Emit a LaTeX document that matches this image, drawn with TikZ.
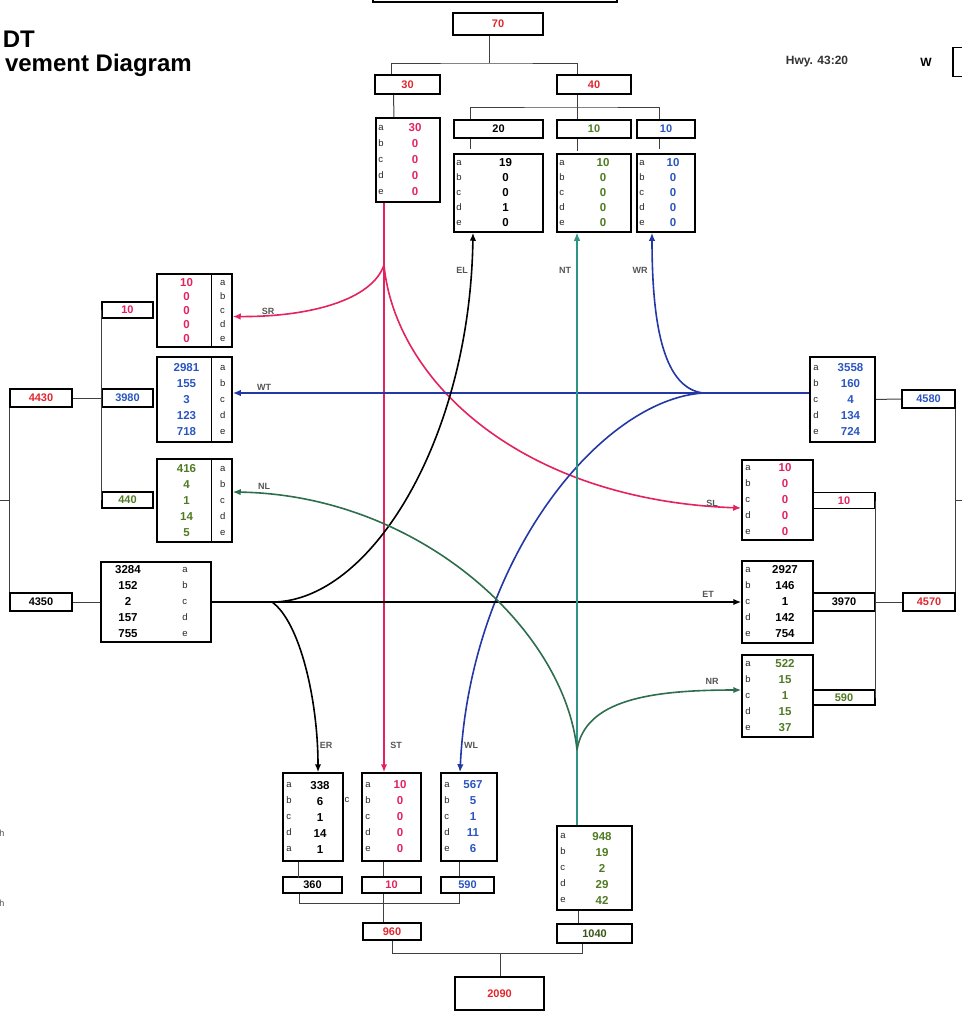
\documentclass[tikz,border=0pt]{standalone}
\usepackage{fontspec}
\setmainfont{Liberation Sans}
\usetikzlibrary{positioning,calc,arrows.meta}
\definecolor{mvred}{HTML}{E0262E}
\definecolor{mvpink}{HTML}{E3225E}
\definecolor{mvblue}{HTML}{2A55C0}
\definecolor{mvgreen}{HTML}{4F7A22}
\definecolor{lnblue}{HTML}{2338A6}
\definecolor{lnteal}{HTML}{2E9486}
\definecolor{lngreen}{HTML}{2D6E4E}
\definecolor{lblgray}{HTML}{555555}
\newcommand{\abcde}{a\\b\\c\\d\\e}

\begin{document}
\begin{tikzpicture}[x=1pt, y=-1pt,
    box/.style={draw, line width=1.5pt, inner sep=0pt, font=\bfseries\fontsize{11}{12}\selectfont},
    tab/.style={draw, line width=1.5pt, inner sep=0pt},
    val/.style={font=\bfseries\fontsize{11.5}{16}\selectfont, align=center, inner sep=0pt},
    lett/.style={font=\fontsize{9.5}{16}\selectfont, align=left, inner sep=0pt, text=black!85},
    link/.style={line width=1pt, color=black!75},
    flow/.style={-{Latex[length=8pt,width=6.5pt]}, line width=1.6pt},
    lbl/.style={font=\bfseries\fontsize{9}{10}\selectfont, text=lblgray},
    ttl/.style={font=\bfseries\fontsize{24}{26}\selectfont, inner sep=0pt},
]
\useasboundingbox (0,0) rectangle (962,1013);
\clip (0,0) rectangle (962,1013);

% header
\node[ttl, anchor=base east] (ttlA) at (35,47) {DT};
\node[ttl, anchor=base east] (ttlB) at (192,71) {vement Diagram};
\node[font=\bfseries\fontsize{12}{13}\selectfont, text=black!80] (hwy) at (817,62) {Hwy. 43:20};
\node[font=\bfseries\fontsize{12}{13}\selectfont] (wlbl) at (926,62) {W};
\node[tab, minimum width=30, minimum height=29] (wbox) at (968,62) {};
\node[tab, minimum width=244, minimum height=24] (hdr) at (495,-10) {};
\node[font=\fontsize{9}{10}\selectfont, text=black!70] (h1) at (2,833) {h};
\node[font=\fontsize{9}{10}\selectfont, text=black!70] (h2) at (2,903) {h};

% north leg
\node[box, text=mvred, minimum width=90, minimum height=22] (n70) at (498,24) {70};
\node[box, text=mvred, minimum width=65, minimum height=19] (n30) at (407.5,84.5) {30};
\node[box, text=mvred, minimum width=74, minimum height=19] (n40) at (594,84.5) {40};
\node[box, minimum width=89, minimum height=18] (n20) at (498.5,129) {20};
\node[box, text=mvgreen, minimum width=74, minimum height=18] (n10g) at (594,129) {10};
\node[box, text=mvblue, minimum width=58, minimum height=18] (n10b) at (666,129) {10};
\node[tab, minimum width=64, minimum height=84] (t30) at (408,160) {};
\node[tab, minimum width=89, minimum height=78] (t20) at (498.5,193) {};
\node[tab, minimum width=74, minimum height=78] (t10g) at (594,193) {};
\node[tab, minimum width=58, minimum height=78] (t10b) at (666,193) {};
\node[lett, right] (t30-l) at ([xshift=3]t30.west) {\abcde};
\foreach \t in {t20,t10g,t10b}
  \node[lett, right, font=\fontsize{9.5}{15}\selectfont] (\t-l) at ([xshift=3]\t.west) {\abcde};
\node[val, text=mvpink] (t30-v) at ([xshift=7]t30.center) {30\\0\\0\\0\\0};
\node[val, font=\bfseries\fontsize{11.5}{15}\selectfont] (t20-v) at ([xshift=7]t20.center) {19\\0\\0\\1\\0};
\node[val, font=\bfseries\fontsize{11.5}{15}\selectfont, text=mvgreen] (t10g-v) at ([xshift=9]t10g.center) {10\\0\\0\\0\\0};
\node[val, font=\bfseries\fontsize{11.5}{15}\selectfont, text=mvblue] (t10b-v) at ([xshift=7]t10b.center) {10\\0\\0\\0\\0};

\coordinate (j70) at (489,63);
\coordinate (j40) at (577,107);
\draw[link] (n70.south -| j70) -- (j70);
\draw[link] ([xshift=-16]n30.north) |- (j70) -| ([xshift=-17]n40.north);
\draw[link] ([xshift=-14]n30.south) -- ([xshift=-14]t30.north);
\draw[link] (n40.south -| j40) -- (j40);
\draw[link] ([xshift=-28]n20.north) |- (j40) -| ([xshift=-7]n10b.north);
\draw[link] (j40) -- (n10g.north -| j40);
\draw[link] ([xshift=-28]n20.south) -- ++(0,10);
\draw[link] ([xshift=-17]n10g.south) -- ++(0,12);
\draw[link] ([xshift=-7]n10b.south) -- ++(0,10);

% west leg
\node[tab, minimum width=75, minimum height=73] (l10t) at (194.5,310.5) {};
\node[tab, minimum width=75, minimum height=85] (l3980t) at (194.5,399.5) {};
\node[tab, minimum width=75, minimum height=83] (l440t) at (194.5,500.5) {};
\foreach \t in {l10t,l3980t,l440t}
  \draw[line width=1.2pt] ([xshift=-21]\t.north east) -- ([xshift=-21]\t.south east);
\node[lett, font=\fontsize{9.5}{14}\selectfont] (l10t-l) at ([xshift=-10]l10t.east) {\abcde};
\node[lett] (l3980t-l) at ([xshift=-10]l3980t.east) {\abcde};
\node[lett] (l440t-l) at ([xshift=-10]l440t.east) {\abcde};
\node[val, font=\bfseries\fontsize{11.5}{14}\selectfont, text=mvpink] (l10t-v) at ([xshift=-8]l10t.center) {10\\0\\0\\0\\0};
\node[val, text=mvblue] (l3980t-v) at ([xshift=-8]l3980t.center) {2981\\155\\3\\123\\718};
\node[val, text=mvgreen] (l440t-v) at ([xshift=-8]l440t.center) {416\\4\\1\\14\\5};
\node[box, text=mvpink, minimum width=51, minimum height=16] (b10L) at (127.5,310) {10};
\node[box, text=mvblue, minimum width=51, minimum height=18] (b3980) at (127.5,398) {3980};
\node[box, text=mvgreen, minimum width=51, minimum height=16] (b440) at (127.5,500) {440};
\node[box, text=mvred, minimum width=62, minimum height=18] (b4430) at (41,398) {4430};
\node[box, minimum width=62, minimum height=18] (b4350) at (41,602) {4350};
\node[tab, minimum width=110, minimum height=80] (t4350) at (156,602) {};
\node[lett] (t4350-l) at ([xshift=29]t4350.center) {\abcde};
\node[val] (t4350-v) at ([xshift=-28]t4350.center) {3284\\152\\2\\157\\755};
\draw[link] (b4430) -- (b3980);
\draw[link] (b10L.west) -- (b440.west);
\draw[link] (b4430.south west) -- (b4350.north west);
\coordinate (jl) at ($(b4430.south west)!0.5!(b4350.north west)$);
\draw[link] (jl) -- ++(-12,0);
\draw[link] (b4350) -- (t4350);

% east leg
\node[tab, minimum width=65, minimum height=85] (r3558t) at (842.5,399.5) {};
\node[tab, minimum width=71, minimum height=80] (r10t) at (777.5,500) {};
\node[tab, minimum width=71, minimum height=82] (r2927t) at (777.5,602) {};
\node[tab, minimum width=71, minimum height=82] (r522t) at (777.5,696) {};
\foreach \t in {r3558t,r10t,r2927t,r522t}
  \node[lett, right] (\t-l) at ([xshift=4]\t.west) {\abcde};
\node[val, text=mvblue] (r3558t-v) at ([xshift=8]r3558t.center) {3558\\160\\4\\134\\724};
\node[val, text=mvpink] (r10t-v) at ([xshift=7.5]r10t.center) {10\\0\\0\\0\\0};
\node[val] (r2927t-v) at ([xshift=7.5]r2927t.center) {2927\\146\\1\\142\\754};
\node[val, text=mvgreen] (r522t-v) at ([xshift=7.5]r522t.center) {522\\15\\1\\15\\37};
\node[box, text=mvblue, minimum width=53, minimum height=18] (b4580) at (928.5,399) {4580};
\node[box, text=mvpink, minimum width=62, minimum height=16] (b10R) at (844,500.5) {10};
\node[box, minimum width=62, minimum height=18] (b3970) at (844,602) {3970};
\node[box, text=mvred, minimum width=52, minimum height=18] (b4570) at (929,602) {4570};
\node[box, text=mvgreen, minimum width=62, minimum height=15] (b590R) at (844,697.5) {590};
\draw[link] (r3558t) -- (b4580);
\draw[link] (b3970) -- (b4570);
\draw[link] (b10R.east) -- (b590R.east);
\draw[link] (b4580.south east) -- (b4570.north east);
\coordinate (jr) at ($(b4580.south east)!0.5!(b4570.north east)$);
\draw[link] (jr) -- ++(12,0);

% south leg
\node[tab, minimum width=60, minimum height=88] (t338) at (313,817) {};
\node[tab, minimum width=59, minimum height=88] (t10B) at (391.5,817) {};
\node[tab, minimum width=56, minimum height=88] (t567) at (469,817) {};
\node[tab, minimum width=75, minimum height=84] (t948) at (594.5,868) {};
\node[lett, right] (t338-l) at ([xshift=4]t338.west) {a\\b\\c\\d\\a};
\foreach \t in {t10B,t567,t948}
  \node[lett, right] (\t-l) at ([xshift=4]\t.west) {\abcde};
\node[val] (t338-v) at ([xshift=7]t338.center) {338\\6\\1\\14\\1};
\node[val, text=mvpink] (t10B-v) at ([xshift=8.5]t10B.center) {10\\0\\0\\0\\0};
\node[val, text=mvblue] (t567-v) at ([xshift=4]t567.center) {567\\5\\1\\11\\6};
\node[val, text=mvgreen] (t948-v) at ([xshift=7.5]t948.center) {948\\19\\2\\29\\42};
\node[lett] (strayc) at (347,800) {c};
\node[box, minimum width=59, minimum height=16] (b360) at (312.5,885) {360};
\node[box, text=mvpink, minimum width=59, minimum height=16] (b10B) at (391.5,885) {10};
\node[box, text=mvblue, minimum width=53, minimum height=16] (b590B) at (467.5,885) {590};
\node[box, text=mvred, minimum width=58, minimum height=17] (b960) at (392,931.5) {960};
\node[box, text=mvgreen!70!black, minimum width=75, minimum height=19] (b1040) at (594.5,933.5) {1040};
\node[box, text=mvred, minimum width=89, minimum height=33] (b2090) at (499.5,993.5) {2090};
\coordinate (jb) at (383,903);
\coordinate (jc) at (500,953);
\draw[link] ([xshift=-15]t338.south) -- ++(0,16);
\draw[link] ([xshift=-8.5]t10B.south) -- ([xshift=-8.5]b10B.north);
\draw[link] ([xshift=-10]t567.south) -- ([xshift=-8.5]b590B.north);
\draw[link] ([xshift=-13]b360.south) |- (jb) -| ([xshift=-8.5]b590B.south);
\draw[link] ([xshift=-8.5]b10B.south) -- ([xshift=-9]b960.north);
\draw[link] (b960.south) |- (jc) -| ([xshift=-12.5]b1040.south);
\draw[link] (jc) -- (b2090.north -| jc);
\draw[link] ([xshift=-16.5]t948.south) -- ([xshift=-16.5]b1040.north);

% movements
\coordinate (rsp) at (384,265);
\coordinate (bsp) at (703,393);
\coordinate (ksp) at (272,602);
\coordinate (gsp) at (577,750);
\draw[flow, mvpink] ([xshift=-24]t30.south) -- ([xshift=-7.5]t10B.north);
\draw[flow, mvpink] (rsp) .. controls (372,300) and (310,317) .. ([yshift=-6]l10t.east);
\draw[flow, mvpink] (rsp) .. controls (395,380) and (520,500) .. ([yshift=-8]r10t.west);
\draw[flow, lnblue] ([yshift=6.5]r3558t.west) -- ([yshift=6.5]l3980t.east);
\draw[flow, lnblue] (bsp) .. controls (665,388) and (652,330) .. ([xshift=-14]t10b.south);
\draw[flow, lnblue] (bsp) .. controls (600,400) and (470,560) .. ([xshift=-9]t567.north);
\draw[flow] (t4350) -- (r2927t);
\draw[flow] (ksp) .. controls (370,602) and (470,440) .. ([xshift=-25.5]t20.south);
\draw[flow] (ksp) .. controls (300,622) and (318,700) .. ([xshift=5]t338.north);
\draw[flow, lnteal, line width=1.2pt] ([xshift=-17.5]t948.north) -- ([xshift=-17]t10g.south);
\draw[flow, lngreen] (gsp) .. controls (565,630) and (420,495) .. ([yshift=8.5]l440t.east);
\draw[flow, lngreen] (gsp) .. controls (585,700) and (650,690) .. ([yshift=6]r522t.west);

\node[lbl] (mEL) at (462,270) {EL};
\node[lbl] (mNT) at (565,270) {NT};
\node[lbl] (mWR) at (640,270) {WR};
\node[lbl] (mSR) at (268,311) {SR};
\node[lbl] (mWT) at (264,387) {WT};
\node[lbl] (mNL) at (264,486) {NL};
\node[lbl] (mSL) at (712,503) {SL};
\node[lbl] (mET) at (708,594) {ET};
\node[lbl] (mNR) at (712,681) {NR};
\node[lbl] (mER) at (326,745) {ER};
\node[lbl] (mST) at (396,745) {ST};
\node[lbl] (mWL) at (471,745) {WL};
\end{tikzpicture}
\end{document}
